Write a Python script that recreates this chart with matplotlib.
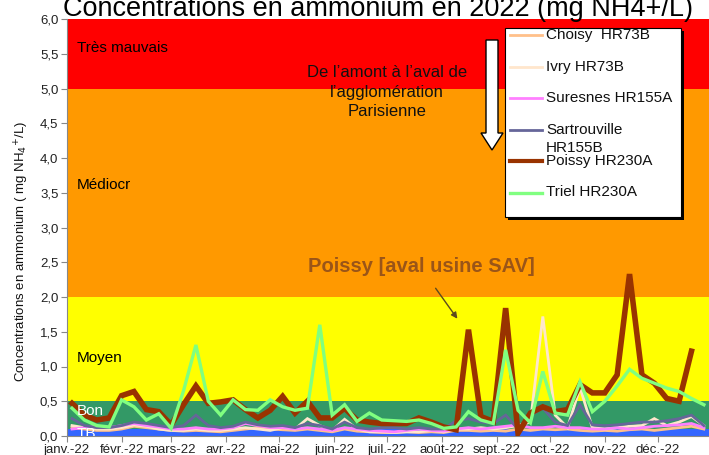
import matplotlib
matplotlib.use("Agg")
import matplotlib.pyplot as plt
import matplotlib.dates as mdates
from matplotlib.patches import Rectangle, Polygon
from matplotlib.lines import Line2D
import pandas as pd

plt.rcParams["font.family"] = ["Liberation Sans", "DejaVu Sans"]

# ---------------- data ----------------
dates = pd.date_range("2022-01-04", periods=52, freq="7D")

choisy = [0.12, 0.10, 0.08, 0.08, 0.10, 0.14, 0.12, 0.10, 0.08, 0.07, 0.08, 0.07, 0.06,
          0.08, 0.10, 0.12, 0.10, 0.09, 0.08, 0.10, 0.08, 0.06, 0.10, 0.07, 0.06, 0.05,
          0.05, 0.06, 0.05, 0.06, 0.05, 0.08, 0.08, 0.07, 0.08, 0.07, 0.10, 0.08, 0.10,
          0.09, 0.10, 0.08, 0.07, 0.08, 0.07, 0.09, 0.10, 0.08, 0.10, 0.12, 0.14, 0.10]
ivry = [0.15, 0.12, 0.10, 0.10, 0.12, 0.16, 0.14, 0.10, 0.08, 0.08, 0.10, 0.08, 0.08,
        0.10, 0.12, 0.10, 0.08, 0.12, 0.10, 0.25, 0.15, 0.08, 0.24, 0.10, 0.06, 0.06,
        0.05, 0.06, 0.06, 0.08, 0.06, 0.10, 0.10, 0.12, 0.10, 0.12, 0.15, 0.20, 1.72,
        0.30, 0.12, 0.70, 0.12, 0.10, 0.12, 0.14, 0.15, 0.25, 0.15, 0.20, 0.28, 0.15]
suresnes = [0.10, 0.12, 0.14, 0.12, 0.15, 0.18, 0.15, 0.13, 0.10, 0.10, 0.12, 0.10, 0.10,
            0.12, 0.18, 0.15, 0.12, 0.12, 0.10, 0.12, 0.10, 0.08, 0.12, 0.10, 0.08, 0.07,
            0.06, 0.08, 0.10, 0.08, 0.07, 0.10, 0.12, 0.10, 0.12, 0.14, 0.16, 0.12, 0.12,
            0.14, 0.12, 0.12, 0.10, 0.10, 0.12, 0.10, 0.12, 0.14, 0.15, 0.16, 0.18, 0.12]
sartrouville = [0.25, 0.15, 0.12, 0.12, 0.15, 0.20, 0.18, 0.15, 0.12, 0.15, 0.30, 0.15, 0.12,
                0.14, 0.20, 0.16, 0.14, 0.15, 0.12, 0.18, 0.15, 0.10, 0.20, 0.12, 0.10, 0.12,
                0.12, 0.10, 0.12, 0.10, 0.10, 0.22, 0.25, 0.20, 0.18, 0.30, 0.10, 0.30, 0.40,
                0.20, 0.15, 0.45, 0.16, 0.15, 0.16, 0.18, 0.20, 0.20, 0.22, 0.25, 0.30, 0.15]
poissy = [0.47, 0.30, 0.23, 0.26, 0.58, 0.64, 0.38, 0.35, 0.16, 0.45, 0.72, 0.47, 0.49,
          0.52, 0.38, 0.26, 0.37, 0.57, 0.33, 0.50, 0.26, 0.26, 0.40, 0.23, 0.20, 0.18,
          0.18, 0.18, 0.26, 0.20, 0.13, 0.09, 1.53, 0.28, 0.21, 1.84, 0.04, 0.33, 0.42,
          0.35, 0.38, 0.74, 0.62, 0.62, 0.88, 2.33, 0.88, 0.76, 0.54, 0.50, 1.22]
triel = [0.40, 0.23, 0.15, 0.13, 0.52, 0.42, 0.23, 0.32, 0.11, 0.65, 1.31, 0.50, 0.30,
         0.52, 0.38, 0.37, 0.52, 0.42, 0.37, 0.40, 1.60, 0.30, 0.45, 0.21, 0.33, 0.23,
         0.22, 0.21, 0.23, 0.18, 0.11, 0.13, 0.35, 0.23, 0.18, 1.24, 0.37, 0.19, 0.93,
         0.33, 0.30, 0.78, 0.35, 0.50, 0.72, 0.96, 0.83, 0.76, 0.69, 0.64, 0.54, 0.45]

series_names = ["Choisy  HR73B", "Ivry HR73B", "Suresnes HR155A",
                "Sartrouville\nHR155B", "Poissy HR230A", "Triel HR230A"]
series_values = [choisy, ivry, suresnes, sartrouville, poissy, triel]
series_colors = ["#ffc08a", "#ffe6cc", "#ff80ff", "#666699", "#993300", "#80ff80"]
series_widths = [2.0, 2.0, 2.0, 2.0, 4.0, 2.4]

band_edges = [0.0, 0.1, 0.5, 2.0, 5.0, 6.0]
band_colors = ["#3366ff", "#339966", "#ffff00", "#ff9900", "#ff0000"]
band_labels = [("TB", 0.13, "white"), ("Bon", 0.36, "white"), ("Moyen", 1.12, "black"),
               ("Médiocr", 3.61, "black"), ("Très mauvais", 5.58, "black")]

month_labels = ["janv.-22", "févr.-22", "mars-22", "avr.-22", "mai-22", "juin-22",
                "juil.-22", "août-22", "sept.-22", "oct.-22", "nov.-22", "déc.-22"]

W, H = 709, 455


def px(x, y):
    # image pixel -> figure fraction
    return x / W, 1 - y / H


fig = plt.figure(figsize=(7.09, 4.55), dpi=100)
ax = fig.add_axes([66.7 / W, 1 - 436 / H, 1 - 66.7 / W, (436 - 19) / H])

# quality bands
for i in range(len(band_colors)):
    ax.axhspan(band_edges[i], band_edges[i + 1], color=band_colors[i], lw=0, zorder=0)

x0 = mdates.date2num(pd.Timestamp("2022-01-01"))
ax.set_xlim(x0, x0 + 362.9)
ax.set_ylim(0, 6)

# series
for i in range(len(series_values)):
    vals = series_values[i]
    ax.plot(dates[:len(vals)], vals, color=series_colors[i], lw=series_widths[i],
            solid_joinstyle="miter", zorder=2 + i)

# band labels
for name, yv, col in band_labels:
    va = "top" if name == "TB" else "center"
    ax.text(x0 + 5.8, yv, name, color=col, fontsize=11, va=va, ha="left",
            zorder=10, clip_on=True)

# axes styling
ax.set_yticks([0.5 * i for i in range(13)])
ax.set_yticklabels([f"{0.5 * i:.1f}".replace(".", ",") for i in range(13)])
ticks = pd.date_range("2022-01-01", periods=12, freq="MS")
ax.set_xticks(mdates.date2num(ticks))
ax.set_xticklabels(month_labels)
ax.tick_params(axis="both", direction="out", length=4, color="#888888",
               labelsize=9.5, labelcolor="#222222", pad=2)
for s in ["top", "right"]:
    ax.spines[s].set_visible(False)
for s in ["left", "bottom"]:
    ax.spines[s].set_color("#888888")

fig.text(22 / W, 1 - 251 / H, "Concentrations en ammonium ( mg NH$_4$$^{+}$/L)",
         rotation=90, ha="center", va="center", fontsize=9.5, color="#111111")

# title (clipped at top as in the original)
fig.text(378 / W, 1 - 16 / H, "Concentrations en ammonium en 2022 (mg NH4+/L)",
         ha="center", va="baseline", fontsize=19.5, color="black")

# upstream -> downstream text and block arrow
fig.text(*px(387, 92), "De l’amont à l’aval de\nl’agglomération\nParisienne",
         ha="center", va="center", fontsize=12, linespacing=1.35, color="#111111")
arrow_px = [(486, 40), (498, 40), (498, 133), (503, 133), (492, 150), (481, 133), (486, 133)]
fig.patches.append(Polygon([px(a, b) for a, b in arrow_px], closed=True,
                           facecolor="white", edgecolor="black", lw=1.0,
                           transform=fig.transFigure, zorder=5))

# Poissy annotation
fig.text(*px(421, 267), "Poissy [aval usine SAV]", ha="center", va="center",
         fontsize=14.5, fontweight="bold", color="#9a5518")
ax.annotate("", xy=px(459, 321), xytext=px(434, 286), xycoords="figure fraction",
            textcoords="figure fraction",
            arrowprops=dict(arrowstyle="-|>", color="#5c4a1e", lw=1.0,
                            mutation_scale=9))

# legend box (drawn by hand to keep the original layout)
lx0, ly0, lx1, ly1 = 505, 28, 681, 217
sx, sy = px(lx0 + 3, ly1 + 3)
fig.patches.append(Rectangle((sx, sy), (lx1 - lx0) / W, (ly1 - ly0) / H,
                             transform=fig.transFigure, facecolor="black",
                             edgecolor="none", zorder=6))
bx, by = px(lx0, ly1)
fig.patches.append(Rectangle((bx, by), (lx1 - lx0) / W, (ly1 - ly0) / H,
                             transform=fig.transFigure, facecolor="white",
                             edgecolor="black", lw=0.8, zorder=7))
row_y = [35, 66.5, 98, 129.5, 161, 192.5]
for i in range(len(series_names)):
    yy = row_y[i]
    hx0, hy = px(510, yy)
    hx1, _ = px(542, yy)
    fig.lines.append(Line2D([hx0, hx1], [hy, hy], color=series_colors[i],
                            lw=min(series_widths[i], 3.0), transform=fig.transFigure,
                            zorder=8))
    tx, ty = px(546, yy)
    lines = series_names[i].split("\n")
    for j, line in enumerate(lines):
        fig.text(tx, ty - j * 18.5 / H, line, ha="left", va="center", fontsize=11,
                 color="#111111", zorder=9)

fig.savefig("out.png", dpi=100)
